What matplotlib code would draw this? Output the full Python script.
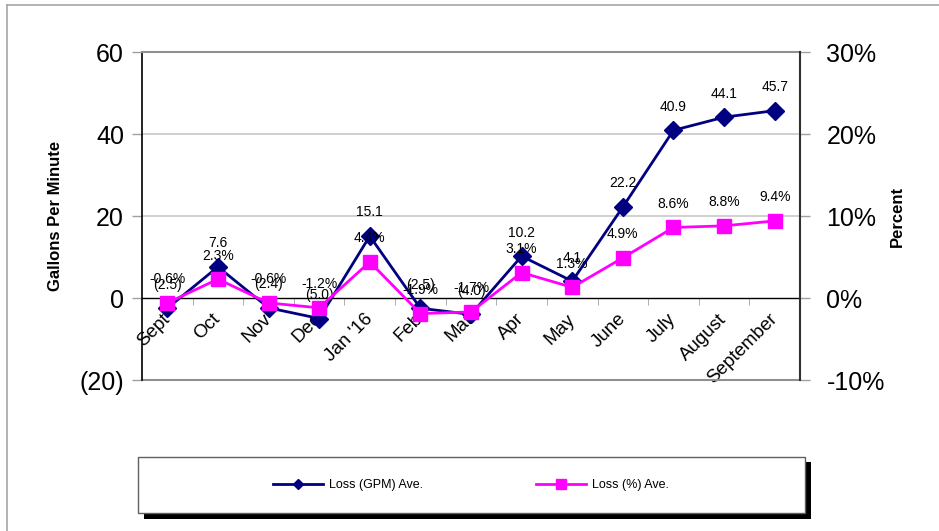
import matplotlib
matplotlib.use("Agg")
import matplotlib.pyplot as plt
import matplotlib.transforms as mtransforms
from matplotlib.lines import Line2D
from matplotlib.patches import Rectangle

plt.rcParams['font.family'] = ['Liberation Sans', 'DejaVu Sans']

months = ['Sept', 'Oct', 'Nov', 'Dec', "Jan '16", 'Feb', 'Mar', 'Apr',
          'May', 'June', 'July', 'August', 'September']
gpm = [-2.5, 7.6, -2.4, -5.0, 15.1, -2.5, -4.0, 10.2, 4.1, 22.2, 40.9, 44.1, 45.7]
pct = [-0.6, 2.3, -0.6, -1.2, 4.4, -1.9, -1.7, 3.1, 1.3, 4.9, 8.6, 8.8, 9.4]

left_ticks = [60, 40, 20, 0, -20]
left_labels = ['60', '40', '20', '0', '(20)']
right_ticks = [30, 20, 10, 0, -10]
right_labels = ['30%', '20%', '10%', '0%', '-10%']

W, H = 939, 531
fig = plt.figure(figsize=(W / 100, H / 100), dpi=100)

def px(x0, y0, x1, y1):
    # pixel box (from top-left) -> figure fraction [l, b, w, h]
    return [x0 / W, 1 - y1 / H, (x1 - x0) / W, (y1 - y0) / H]

# outer frame: only top and left edges are visible
fig.add_artist(Line2D([7 / W, 1.0], [1 - 5 / H, 1 - 5 / H], transform=fig.transFigure,
                      color='#a6a6a6', linewidth=1.2))
fig.add_artist(Line2D([7 / W, 7 / W], [0, 1 - 5 / H], transform=fig.transFigure,
                      color='#a6a6a6', linewidth=1.2))

ax = fig.add_axes(px(142, 52, 800, 380))
x = list(range(len(months)))

ax.set_xlim(-0.5, len(months) - 0.5)
ax.set_ylim(-20, 60)
ax.set_yticks(left_ticks)
ax.set_yticklabels(left_labels, fontsize=18)
ax.tick_params(axis='y', length=7, width=1, color='#a0a0a0', pad=6)

# x axis sits on the zero line
ax.spines['bottom'].set_position(('data', 0))
ax.spines['bottom'].set_color('black')
ax.spines['bottom'].set_linewidth(1)
ax.spines['top'].set_color('#909090')
ax.spines['top'].set_linewidth(1.5)
ax.spines['left'].set_color('black')
ax.spines['left'].set_linewidth(1.2)
ax.spines['right'].set_visible(False)
ax.axhline(-20, color='#909090', linewidth=1.5, clip_on=False)
for g in [20, 40]:
    ax.axhline(g, color='#c8c8c8', linewidth=1.2, zorder=0)

ax.set_xticks(x)
ax.set_xticklabels(months, rotation=45, ha='right', va='top',
                   rotation_mode='anchor', fontsize=13.5)
ax.tick_params(axis='x', which='major', length=0, pad=9)
shift = mtransforms.ScaledTranslation(-6 / 100, 0, fig.dpi_scale_trans)
for lab in ax.get_xticklabels():
    lab.set_transform(lab.get_transform() + shift)
ax.set_xticks([i + 0.5 for i in x[:-1]], minor=True)
ax.tick_params(axis='x', which='minor', length=5, color='#a0a0a0', direction='out')

ax.set_ylabel('Gallons Per Minute', fontsize=12, fontweight='bold', labelpad=12)

ax.plot(x, gpm, color='#000080', marker='D', markersize=9, linewidth=2,
        clip_on=False, zorder=3)
for i, v in enumerate(gpm):
    lab = f'({abs(v):.1f})' if v < 0 else f'{v:.1f}'
    ax.annotate(lab, (i, v), xytext=(0, 17), textcoords='offset points',
                ha='center', va='center', fontsize=10, annotation_clip=False)

ax2 = ax.twinx()
ax2.set_ylim(-10, 30)
ax2.set_yticks(right_ticks)
ax2.set_yticklabels(right_labels, fontsize=18)
ax2.tick_params(axis='y', length=7, width=1, color='#a0a0a0', pad=12)
for s in ['top', 'bottom', 'left']:
    ax2.spines[s].set_visible(False)
ax2.spines['right'].set_color('#303030')
ax2.spines['right'].set_linewidth(1.5)
ax2.set_ylabel('Percent', fontsize=12, fontweight='bold', labelpad=4)

ax2.plot(x, pct, color='#FF00FF', marker='s', markersize=10, linewidth=2,
         clip_on=False, zorder=3)
for i, v in enumerate(pct):
    ax2.annotate(f'{v:.1f}%', (i, v), xytext=(0, 17), textcoords='offset points',
                 ha='center', va='center', fontsize=10, annotation_clip=False)

# legend box with shadow
fig.patches.append(Rectangle(px(144, 462, 811, 519)[:2], (811 - 144) / W, (519 - 462) / H,
                             transform=fig.transFigure, facecolor='black',
                             edgecolor='none', zorder=1))
fig.patches.append(Rectangle(px(138, 457, 805, 513)[:2], (805 - 138) / W, (513 - 457) / H,
                             transform=fig.transFigure, facecolor='white',
                             edgecolor='#606060', linewidth=1, zorder=2))
handles = [Line2D([], [], color='#000080', marker='D', markersize=5, linewidth=2),
           Line2D([], [], color='#FF00FF', marker='s', markersize=7, linewidth=2)]
fig.legend(handles, ['Loss (GPM) Ave.', 'Loss (%) Ave.'], loc='center',
           bbox_to_anchor=(471 / W, 1 - 485 / H), ncol=2, frameon=False,
           fontsize=9, handlelength=4, columnspacing=9, handletextpad=0.5)

fig.savefig('out.png', dpi=100)
